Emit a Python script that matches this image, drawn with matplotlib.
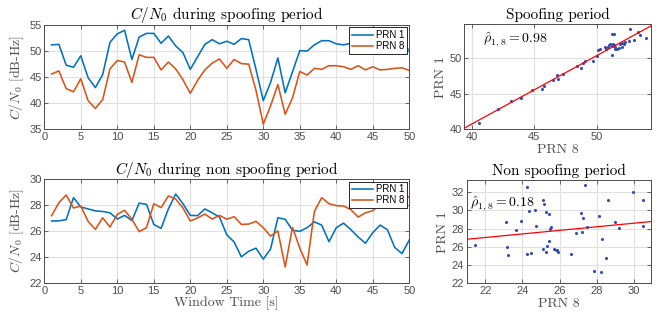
import numpy as np
import matplotlib
matplotlib.use('Agg')
import matplotlib.pyplot as plt

plt.rcParams['mathtext.fontset'] = 'cm'

# window time axis
t = np.arange(1, 51)

# C/N0 during spoofing period
spoof_prn1 = [51.2, 51.3, 47.3, 46.9, 49.1, 44.9, 43.0, 45.5, 51.7, 53.3,
              54.0, 48.4, 52.7, 53.4, 53.4, 51.5, 52.9, 51.0, 49.7, 46.5,
              48.9, 51.3, 52.2, 51.4, 51.9, 51.3, 52.4, 52.2, 46.5, 40.5,
              44.0, 48.7, 42.0, 46.0, 50.1, 50.0, 51.2, 52.0, 52.0, 51.4,
              51.2, 51.5, 51.8, 51.3, 51.6, 51.2, 51.0, 50.8, 51.1, 50.2]
spoof_prn8 = [45.6, 46.2, 42.8, 42.2, 44.7, 40.5, 39.0, 40.7, 46.6, 48.2,
              47.9, 44.0, 49.3, 48.8, 48.8, 46.4, 47.9, 46.6, 44.5, 41.9,
              44.4, 46.4, 47.7, 48.5, 46.7, 48.4, 47.6, 47.5, 42.5, 36.0,
              39.5, 43.6, 37.9, 41.0, 46.1, 45.4, 46.7, 46.5, 47.2, 47.2,
              47.0, 46.5, 47.2, 46.4, 47.0, 46.4, 46.5, 46.7, 46.8, 46.3]

# C/N0 during non spoofing period
nonspoof_prn1 = [26.77, 26.78, 26.87, 28.57, 27.85, 27.7, 27.55, 27.5, 27.4, 26.92,
                 27.2, 26.8, 28.15, 28.05, 26.5, 26.2, 27.7, 28.85, 28.1, 27.2,
                 27.18, 27.7, 27.4, 27.07, 25.7, 25.15, 24.0, 24.43, 24.67, 23.82,
                 24.6, 27.02, 26.9, 26.05, 25.97, 26.25, 26.7, 26.45, 25.17, 26.25,
                 26.6, 26.1, 25.53, 25.05, 25.87, 26.45, 26.1, 24.73, 24.25, 25.3]
nonspoof_prn8 = [27.18, 28.18, 28.77, 27.77, 27.92, 26.74, 26.12, 27.02, 26.3, 27.28,
                 27.59, 26.9, 25.95, 26.25, 28.1, 27.8, 28.7, 28.46, 27.77, 26.77,
                 27.0, 27.3, 26.92, 27.2, 26.9, 27.1, 26.5, 26.53, 26.74, 26.25,
                 25.6, 26.0, 23.22, 26.28, 24.68, 23.37, 27.5, 28.57, 28.1, 27.95,
                 27.92, 27.64, 27.07, 27.4, 27.56, 28.03, 28.3, 28.5, 28.6, 28.6]

# scatter, spoofing period (PRN 8 vs PRN 1)
sc_spoof_x = [40.6, 42.1, 43.1, 43.95, 44.85, 45.6, 45.8, 46.5, 46.8, 46.9,
              47.3, 48.4, 48.7, 48.9, 49.1, 49.7, 50.0, 50.1, 50.25, 50.7,
              50.75, 50.9, 51.0, 51.1, 51.2, 51.2, 51.25, 51.4, 51.3, 51.45,
              51.6, 51.8, 51.9, 52.05, 52.2, 52.3, 52.6, 52.7, 53.3, 53.5,
              52.95, 53.95, 51.5, 51.35, 52.0]
sc_spoof_y = [40.85, 42.9, 44.0, 44.4, 45.5, 45.7, 46.1, 46.9, 47.6, 47.1,
              47.8, 49.0, 48.7, 49.4, 49.7, 49.6, 50.4, 51.2, 51.3, 51.6,
              51.4, 51.6, 51.9, 52.0, 51.7, 50.5, 53.4, 53.5, 52.1, 51.6,
              51.4, 51.5, 52.1, 51.6, 52.0, 52.3, 52.5, 54.2, 53.75, 53.3,
              52.6, 52.9, 51.4, 51.9, 52.2]

# scatter, non spoofing period
sc_non_x = [21.46, 23.12, 23.17, 23.2, 23.67, 23.92, 24.25, 24.25, 24.36, 24.47,
            24.68, 24.72, 25.1, 25.13, 25.1, 25.26, 25.26, 25.3, 25.42, 25.45,
            25.5, 25.54, 25.7, 25.78, 25.83, 25.9, 26.62, 26.86, 27.13, 27.2,
            27.27, 27.38, 27.45, 27.84, 28.11, 28.2, 28.29, 28.47, 28.6, 29.0,
            29.2, 29.95, 30.47, 30.5]
sc_non_y = [26.18, 28.7, 26.03, 25.08, 27.82, 28.85, 32.55, 25.22, 29.91, 25.33,
            29.99, 28.27, 31.12, 30.64, 25.74, 29.84, 25.44, 26.14, 26.61, 29.55,
            27.97, 28.12, 25.77, 25.7, 25.63, 25.48, 25.19, 27.53, 29.66, 27.57,
            29.14, 32.77, 28.15, 23.32, 29.4, 23.2, 26.84, 24.75, 31.15, 28.67,
            28.08, 32.0, 31.12, 28.23]

rho_spoof = 0.98
rho_non = 0.18

blue = (0, 0.447, 0.741)
orange = (0.85, 0.325, 0.098)
dot = (0.2, 0.3, 0.7)
serif = 'cmr10'
tickcol = '0.3'


def style(ax):
	ax.grid(True, color='0.88', lw=0.8)
	ax.set_axisbelow(True)
	ax.tick_params(direction='in', top=True, right=True, length=3, width=0.6,
				   labelsize=8, colors=tickcol, pad=2)
	for s in ax.spines.values():
		s.set_color('0.3')
		s.set_linewidth(0.7)
	for lab in ax.get_xticklabels() + ax.get_yticklabels():
		lab.set_fontfamily('Liberation Sans')


fig = plt.figure(figsize=(6.6, 3.17), dpi=100)

# line plots
ax1 = fig.add_axes([0.0671, 0.592, 0.553, 0.329])
ax2 = fig.add_axes([0.0671, 0.108, 0.553, 0.327])
for ax, y1, y8, ttl, ylim, yt in [
		(ax1, spoof_prn1, spoof_prn8, '$C/N_0$ during spoofing period', (35, 55), np.arange(35, 56, 5)),
		(ax2, nonspoof_prn1, nonspoof_prn8, '$C/N_0$ during non spoofing period', (22, 30), np.arange(22, 31, 2))]:
	ax.plot(t, y1, color=blue, lw=1.15, label='PRN 1')
	ax.plot(t, y8, color=orange, lw=1.15, label='PRN 8')
	ax.set_xlim(0, 50)
	ax.set_ylim(*ylim)
	ax.set_xticks(np.arange(0, 51, 5))
	ax.set_yticks(yt)
	style(ax)
	ax.set_title(ttl, fontsize=11, fontfamily=serif, pad=4)
	ax.set_ylabel('$C/N_0$ [dB-Hz]', fontsize=10, fontfamily=serif, labelpad=2, color='0.3')
	leg = ax.legend(loc='upper right', prop={'family': 'Liberation Sans', 'size': 7},
					fancybox=False, borderaxespad=0.25, handlelength=2.2, handletextpad=0.3,
					borderpad=0.25, labelspacing=0.15, framealpha=1)
	leg.get_frame().set_edgecolor('0.15')
	leg.get_frame().set_linewidth(0.7)
ax2.set_xlabel('Window Time [s]', fontsize=10, fontfamily=serif, labelpad=1, color='0.3')

# scatter plots
ax3 = fig.add_axes([0.7035, 0.592, 0.283, 0.331])
ax4 = fig.add_axes([0.7071, 0.106, 0.279, 0.326])
for ax, xs, ys, ttl, xl, yl, xt, yt, rho, tpos in [
		(ax3, sc_spoof_x, sc_spoof_y, 'Spoofing period', (39.4, 54.35), (40, 54.8),
		 [40, 45, 50], [40, 45, 50], rho_spoof, (0.1, 0.85)),
		(ax4, sc_non_x, sc_non_y, 'Non spoofing period', (21.0, 30.9), (22, 33.3),
		 np.arange(22, 31, 2), np.arange(22, 33, 2), rho_non, (0.018, 0.77))]:
	ax.scatter(xs, ys, s=5, color=dot, zorder=3, linewidths=0)
	k, b = np.polyfit(xs, ys, 1)
	xx = np.array(xl)
	ax.plot(xx, k * xx + b, color='red', lw=0.9, zorder=4)
	ax.set_xlim(*xl)
	ax.set_ylim(*yl)
	ax.set_xticks(xt)
	ax.set_yticks(yt)
	style(ax)
	ax.set_title(ttl, fontsize=11, fontfamily=serif, pad=4)
	ax.set_xlabel('PRN 8', fontsize=10, fontfamily=serif, labelpad=1, color='0.3')
	ax.set_ylabel('PRN 1', fontsize=10, fontfamily=serif, labelpad=2, color='0.3')
	ax.text(tpos[0], tpos[1], r'$\hat{\rho}_{1,8} = %.2f$' % rho, transform=ax.transAxes,
			fontsize=10, va='center', ha='left', zorder=5)

fig.savefig('out.png', dpi=100)
plt.close()
